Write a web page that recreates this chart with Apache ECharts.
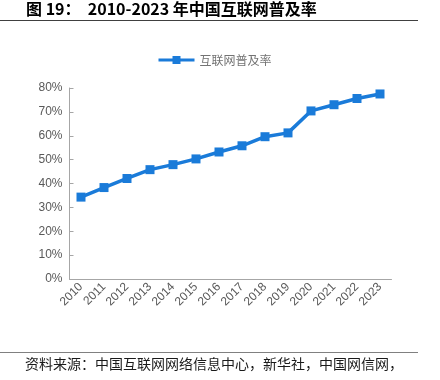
<!DOCTYPE html>
<html><head><meta charset="utf-8">
<script src="https://cdn.jsdelivr.net/npm/echarts@6/dist/echarts.min.js"></script>
<style>html,body{margin:0;padding:0;background:#fff}#c{width:440px;height:380px}</style>
</head><body><div id="c"></div>
<script>
const categories = ['2010','2011','2012','2013','2014','2015','2016','2017','2018','2019','2020','2021','2022','2023'];
const penetration = [34.3, 38.3, 42.1, 45.8, 47.9, 50.3, 53.2, 55.8, 59.6, 61.2, 70.4, 73.0, 75.6, 77.5];
const yTicks = [0, 10, 20, 30, 40, 50, 60, 70, 80];
const seriesName = '互联网普及率';
const titleText = '图 19：  2010-2023 年中国互联网普及率';
const sourceText = '资料来源：中国互联网网络信息中心，新华社，中国网信网，';

const chart = echarts.init(document.getElementById('c'), null, {renderer: 'canvas'});
const blue = '#1a7bd9';
const axisGray = '#a6a6a6';
const labelGray = '#595959';
chart.setOption({
  animation: false,
  backgroundColor: '#fff',
  graphic: [
    {type: 'text', left: 26, top: 1, style: {text: titleText, font: 'bold 16px "Noto Sans CJK SC", sans-serif', fill: '#000'}},
    {type: 'line', shape: {x1: 0, y1: 20.5, x2: 418, y2: 20.5}, style: {stroke: '#404040', lineWidth: 1}},
    {type: 'line', shape: {x1: 0, y1: 352.5, x2: 418, y2: 352.5}, style: {stroke: '#808080', lineWidth: 1}},
    {type: 'text', left: 25, top: 357, style: {text: sourceText, font: '14px "Noto Sans CJK SC", sans-serif', fill: '#1a1a1a'}}
  ],
  legend: {
    top: 49, left: 152,
    itemWidth: 36, itemHeight: 10, itemGap: 4,
    lineStyle: {width: 3},
    textStyle: {color: '#737373', fontSize: 12, fontFamily: '"Noto Sans CJK SC", sans-serif'},
    data: [seriesName]
  },
  grid: {left: 69.5, right: 48.5, top: 88, bottom: 101, containLabel: false},
  xAxis: {
    type: 'category', data: categories, boundaryGap: true,
    axisLine: {lineStyle: {color: axisGray, width: 1}},
    axisTick: {inside: true, length: 4, lineStyle: {color: axisGray}},
    axisLabel: {rotate: 45, color: labelGray, fontSize: 12, fontFamily: 'Arial, "Liberation Sans", sans-serif', margin: 6, interval: 0}
  },
  yAxis: {
    type: 'value', min: yTicks[0], max: yTicks[yTicks.length - 1], interval: 10,
    axisLine: {show: true, lineStyle: {color: axisGray, width: 1}},
    axisTick: {show: true, inside: true, length: 4, lineStyle: {color: axisGray}},
    splitLine: {show: false},
    axisLabel: {formatter: '{value}%', color: labelGray, fontSize: 12, fontFamily: 'Arial, "Liberation Sans", sans-serif', margin: 7}
  },
  series: [{
    name: seriesName, type: 'line', data: penetration,
    symbol: 'rect', symbolSize: 9,
    lineStyle: {color: blue, width: 3.5},
    itemStyle: {color: blue},
    label: {show: false}
  }]
});
</script></body></html>
